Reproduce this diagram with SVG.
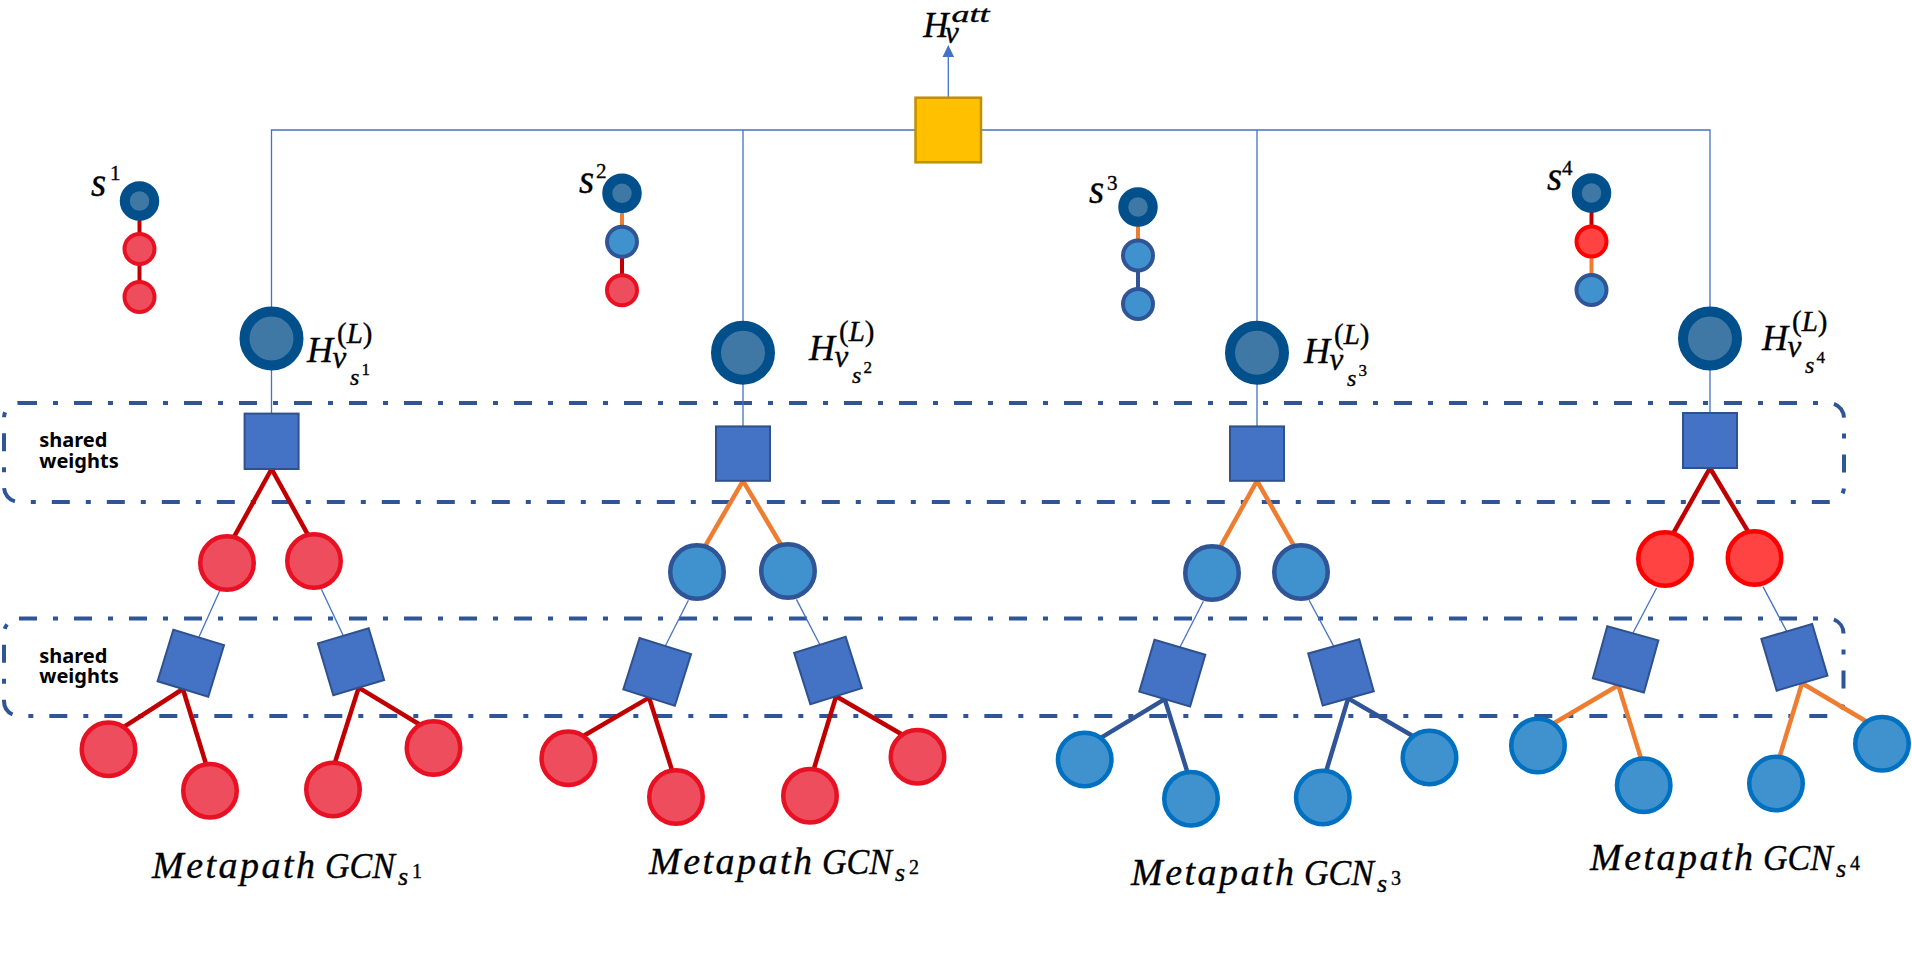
<svg xmlns="http://www.w3.org/2000/svg" width="1912" height="976" viewBox="0 0 1912 976">
<defs>
<style>
.thin{stroke:#4472C4;stroke-width:1.3;fill:none}
.er{stroke:#C00000;stroke-width:4.5}
.eo{stroke:#ED7D31;stroke-width:4.5}
.eb{stroke:#2F5597;stroke-width:4.5}
.sq{fill:#4472C4;stroke:#2F528F;stroke-width:2}
.hc{fill:#3F78A5;stroke:#01508C;stroke-width:10}
.red{fill:#EE4D5D;stroke:#E81123;stroke-width:4.5}
.bred{fill:#FF4343;stroke:#FF0000;stroke-width:4.5}
.blu1{fill:#4092CE;stroke:#2F5597;stroke-width:4.5}
.blu2{fill:#4092CE;stroke:#0070C0;stroke-width:4.5}
.s4{stroke-width:4}
.box{fill:none;stroke:#2F5597;stroke-width:4;stroke-dasharray:18 16 5 16}
.m{font-family:"Liberation Serif",serif;font-style:italic;fill:#000;stroke:#000;stroke-width:0.35}
.u{font-style:normal}
.sw{font-family:"Noto Sans",sans-serif;font-weight:bold;font-size:20px;fill:#000}
</style>
<marker id="arr" viewBox="0 0 12 12" refX="0" refY="6" markerWidth="12" markerHeight="12" markerUnits="userSpaceOnUse" orient="auto">
<path d="M0,0.2 L12,6 L0,11.8 z" fill="#4472C4"/>
</marker>
</defs>
<rect width="1912" height="976" fill="#fff"/>

<g id="shared-weights-boxes">
<rect class="box" x="4" y="403" width="1840" height="99" rx="15"/>
<rect class="box" x="4" y="618.5" width="1839.5" height="97.5" rx="15"/>
<text class="sw" x="39.3" y="447.3">shared<tspan x="39.3" dy="20.3">weights</tspan></text>
<text class="sw" x="39.3" y="662.6">shared<tspan x="39.3" dy="20.4">weights</tspan></text>
</g>

<g id="connectors">
<line class="thin" x1="948.3" y1="97.7" x2="948.3" y2="57" marker-end="url(#arr)"/>
<polyline class="thin" points="271.5,413.6 271.5,130 1710,130 1710,413"/>
<line class="thin" x1="743" y1="130" x2="743" y2="426.4"/>
<line class="thin" x1="1257" y1="130" x2="1257" y2="426.4"/>
<line class="er s4" x1="139.5" y1="201" x2="139.5" y2="249"/>
<line class="er s4" x1="139.5" y1="249" x2="139.5" y2="297"/>
<line class="eo s4" x1="622" y1="193.3" x2="622" y2="241.8"/>
<line class="er s4" x1="622" y1="241.8" x2="622" y2="290.2"/>
<line class="eo s4" x1="1138" y1="207" x2="1138" y2="255.5"/>
<line class="eb s4" x1="1138" y1="255.5" x2="1138" y2="304"/>
<line class="er s4" x1="1591.5" y1="193" x2="1591.5" y2="241.5"/>
<line class="eo s4" x1="1591.5" y1="241.5" x2="1591.5" y2="290"/>
<line class="er" x1="271.6" y1="469" x2="232.8" y2="539.2"/>
<line class="er" x1="271.6" y1="469" x2="309.8" y2="538.1"/>
<line class="thin" x1="220" y1="590.3" x2="198.7" y2="637.4"/>
<line class="thin" x1="321.4" y1="589.2" x2="343.3" y2="635.8"/>
<line class="er" x1="182.9" y1="689" x2="120.4" y2="729.2"/>
<line class="er" x1="182.9" y1="689" x2="207.1" y2="767.6"/>
<line class="er" x1="358.7" y1="687.6" x2="333.9" y2="765.8"/>
<line class="er" x1="358.7" y1="687.6" x2="422.1" y2="726"/>
<line class="eo" x1="743" y1="480.8" x2="702.8" y2="550.2"/>
<line class="eo" x1="743" y1="480.8" x2="783.8" y2="549.4"/>
<line class="thin" x1="688.4" y1="600.2" x2="665.3" y2="646"/>
<line class="thin" x1="796.4" y1="599.4" x2="819.9" y2="644.7"/>
<line class="er" x1="649.1" y1="697.6" x2="579.9" y2="738"/>
<line class="er" x1="649.1" y1="697.6" x2="673.5" y2="775"/>
<line class="er" x1="836.1" y1="696.3" x2="812.6" y2="773"/>
<line class="er" x1="836.1" y1="696.3" x2="905.5" y2="736.5"/>
<line class="eo" x1="1257" y1="480.8" x2="1217.9" y2="551.3"/>
<line class="eo" x1="1257" y1="480.8" x2="1296.7" y2="550.5"/>
<line class="thin" x1="1203.4" y1="601.2" x2="1179.9" y2="647.3"/>
<line class="thin" x1="1309.1" y1="600.2" x2="1333.8" y2="646.4"/>
<line class="eb" x1="1164.7" y1="699.1" x2="1096.7" y2="740.4"/>
<line class="eb" x1="1164.7" y1="699.1" x2="1188.5" y2="775.7"/>
<line class="eb" x1="1348.2" y1="698.4" x2="1325" y2="775"/>
<line class="eb" x1="1348.2" y1="698.4" x2="1417.9" y2="739"/>
<line class="er" x1="1710" y1="468" x2="1671.4" y2="536.6"/>
<line class="er" x1="1710" y1="468" x2="1750.4" y2="535.4"/>
<line class="thin" x1="1656.6" y1="588" x2="1632.8" y2="633.3"/>
<line class="thin" x1="1763" y1="586.6" x2="1786.7" y2="631.4"/>
<line class="eo" x1="1618.4" y1="685.3" x2="1548.8" y2="726.2"/>
<line class="eo" x1="1618.4" y1="685.3" x2="1642.3" y2="762.7"/>
<line class="eo" x1="1802.1" y1="683.2" x2="1778.2" y2="761.3"/>
<line class="eo" x1="1802.1" y1="683.2" x2="1871.5" y2="724.5"/>
</g>

<g id="attention">
<rect x="915.5" y="97.7" width="65.5" height="64.6" fill="#FFC000" stroke="#BF9000" stroke-width="2.5"/>
</g>
<g id="label-Hatt">
<text class="m" x="923.3" y="36.7" font-size="35">H<tspan x="951.5" y="22" font-size="24" textLength="38" lengthAdjust="spacingAndGlyphs">att</tspan><tspan x="945" y="42.5" font-size="31">v</tspan></text>
</g>

<g id="metapath-s1">
<circle class="hc" cx="139.5" cy="201" r="14.75" stroke-width="9.5"/>
<circle class="red s4" cx="139.5" cy="249" r="15"/>
<circle class="red s4" cx="139.5" cy="297" r="15"/>
<text class="m" x="91" y="196" font-size="39">s<tspan class="u" x="110" y="180" font-size="21">1</tspan></text>
</g>
<g id="metapath-s2">
<circle class="hc" cx="622" cy="193.3" r="14.75" stroke-width="9.5"/>
<circle class="blu1 s4" cx="622" cy="241.8" r="15"/>
<circle class="red s4" cx="622" cy="290.2" r="15"/>
<text class="m" x="579" y="193.3" font-size="39">s<tspan class="u" x="596" y="178.3" font-size="21">2</tspan></text>
</g>
<g id="metapath-s3">
<circle class="hc" cx="1138" cy="207" r="14.75" stroke-width="9.5"/>
<circle class="blu1 s4" cx="1138" cy="255.5" r="15"/>
<circle class="blu1 s4" cx="1138" cy="304" r="15"/>
<text class="m" x="1089" y="203" font-size="39">s<tspan class="u" x="1107" y="190" font-size="21">3</tspan></text>
</g>
<g id="metapath-s4">
<circle class="hc" cx="1591.5" cy="193" r="14.75" stroke-width="9.5"/>
<circle class="bred s4" cx="1591.5" cy="241.5" r="15"/>
<circle class="blu1 s4" cx="1591.5" cy="290" r="15"/>
<text class="m" x="1547" y="190" font-size="39">s<tspan class="u" x="1562" y="175" font-size="21">4</tspan></text>
</g>

<g id="H-s1">
<circle class="hc" cx="271.5" cy="338.5" r="27"/>
<text class="m" x="307" y="361.7" font-size="36">H<tspan x="337" y="343" font-size="29"><tspan class="u">(</tspan>L<tspan class="u">)</tspan></tspan><tspan x="332.5" y="368.2" font-size="31">v</tspan><tspan x="350" y="384.7" font-size="24">s</tspan><tspan class="u" x="361.5" y="374.7" font-size="17">1</tspan></text>
</g>
<g id="H-s2">
<circle class="hc" cx="743" cy="352.7" r="27"/>
<text class="m" x="809" y="360" font-size="36">H<tspan x="839" y="341.3" font-size="29"><tspan class="u">(</tspan>L<tspan class="u">)</tspan></tspan><tspan x="834.5" y="366.5" font-size="31">v</tspan><tspan x="852" y="383" font-size="24">s</tspan><tspan class="u" x="863.5" y="373" font-size="17">2</tspan></text>
</g>
<g id="H-s3">
<circle class="hc" cx="1257" cy="352.7" r="27"/>
<text class="m" x="1304" y="363" font-size="36">H<tspan x="1334" y="344.3" font-size="29"><tspan class="u">(</tspan>L<tspan class="u">)</tspan></tspan><tspan x="1329.5" y="369.5" font-size="31">v</tspan><tspan x="1347" y="386" font-size="24">s</tspan><tspan class="u" x="1358.5" y="376" font-size="17">3</tspan></text>
</g>
<g id="H-s4">
<circle class="hc" cx="1710" cy="338.5" r="27"/>
<text class="m" x="1762" y="350" font-size="36">H<tspan x="1792" y="331.3" font-size="29"><tspan class="u">(</tspan>L<tspan class="u">)</tspan></tspan><tspan x="1787.5" y="356.5" font-size="31">v</tspan><tspan x="1805" y="373" font-size="24">s</tspan><tspan class="u" x="1816.5" y="363" font-size="17">4</tspan></text>
</g>

<g id="tree1">
<rect class="sq" x="244.6" y="413.6" width="54" height="55.4"/>
<circle class="red" cx="227" cy="563" r="26.75"/>
<circle class="red" cx="314" cy="561" r="26.75"/>
<rect class="sq" x="-26.5" y="-27" width="53" height="54" transform="translate(190.8 663.2) rotate(17)"/>
<rect class="sq" x="-26.5" y="-27" width="53" height="54" transform="translate(351 661.7) rotate(-16.6)"/>
<circle class="red" cx="108.5" cy="749.3" r="26.75"/>
<circle class="red" cx="210" cy="790.8" r="26.75"/>
<circle class="red" cx="333" cy="789.4" r="26.75"/>
<circle class="red" cx="433.5" cy="748" r="26.75"/>
<text class="m" x="152" y="877.5" font-size="38"><tspan textLength="163" lengthAdjust="spacing">Metapath</tspan><tspan x="325" font-size="35" textLength="70" lengthAdjust="spacingAndGlyphs">GCN</tspan><tspan x="398" y="884.8" font-size="26">s</tspan><tspan class="u" x="412" y="877.5" font-size="20">1</tspan></text>
</g>

<g id="tree2">
<rect class="sq" x="716" y="426.4" width="54" height="54.4"/>
<circle class="blu1" cx="697" cy="572" r="26.75"/>
<circle class="blu1" cx="788" cy="571" r="26.75"/>
<rect class="sq" x="-27" y="-27" width="54" height="54" transform="translate(657.2 671.8) rotate(17.5)"/>
<rect class="sq" x="-27" y="-27" width="54" height="54" transform="translate(828 670.5) rotate(-17.5)"/>
<circle class="red" cx="568.3" cy="758.3" r="26.75"/>
<circle class="red" cx="676" cy="797" r="26.75"/>
<circle class="red" cx="810" cy="795.8" r="26.75"/>
<circle class="red" cx="917.5" cy="756.7" r="26.75"/>
<text class="m" x="649" y="873.8" font-size="38"><tspan textLength="163" lengthAdjust="spacing">Metapath</tspan><tspan x="822" font-size="35" textLength="70" lengthAdjust="spacingAndGlyphs">GCN</tspan><tspan x="895" y="881.1" font-size="26">s</tspan><tspan class="u" x="909" y="873.8" font-size="20">2</tspan></text>
</g>

<g id="tree3">
<rect class="sq" x="1230" y="426.4" width="54" height="54.4"/>
<circle class="blu1" cx="1212" cy="573" r="26.75"/>
<circle class="blu1" cx="1301" cy="572" r="26.75"/>
<rect class="sq" x="-26.5" y="-27" width="53" height="54" transform="translate(1172.3 673.2) rotate(16.4)"/>
<rect class="sq" x="-26.5" y="-27" width="53" height="54" transform="translate(1341 672.4) rotate(-15.6)"/>
<circle class="blu2" cx="1084.7" cy="759.5" r="26.75"/>
<circle class="blu2" cx="1191" cy="798.8" r="26.75"/>
<circle class="blu2" cx="1322.8" cy="797.5" r="26.75"/>
<circle class="blu2" cx="1429.5" cy="757.5" r="26.75"/>
<text class="m" x="1131" y="884.8" font-size="38"><tspan textLength="163" lengthAdjust="spacing">Metapath</tspan><tspan x="1304" font-size="35" textLength="70" lengthAdjust="spacingAndGlyphs">GCN</tspan><tspan x="1377" y="892.1" font-size="26">s</tspan><tspan class="u" x="1391" y="884.8" font-size="20">3</tspan></text>
</g>

<g id="tree4">
<rect class="sq" x="1683" y="413" width="54" height="55"/>
<circle class="bred" cx="1665" cy="559" r="26.75"/>
<circle class="bred" cx="1754.5" cy="558" r="26.75"/>
<rect class="sq" x="-26.5" y="-27" width="53" height="54" transform="translate(1625.6 659.3) rotate(15.5)"/>
<rect class="sq" x="-26.5" y="-27" width="53" height="54" transform="translate(1794.4 657.3) rotate(-16.5)"/>
<circle class="blu2" cx="1538" cy="745.6" r="26.75"/>
<circle class="blu2" cx="1643.7" cy="785.3" r="26.75"/>
<circle class="blu2" cx="1776" cy="783.5" r="26.75"/>
<circle class="blu2" cx="1882" cy="743.8" r="26.75"/>
<text class="m" x="1590" y="870" font-size="38"><tspan textLength="163" lengthAdjust="spacing">Metapath</tspan><tspan x="1763" font-size="35" textLength="70" lengthAdjust="spacingAndGlyphs">GCN</tspan><tspan x="1836" y="877.3" font-size="26">s</tspan><tspan class="u" x="1850" y="870" font-size="20">4</tspan></text>
</g>
</svg>
